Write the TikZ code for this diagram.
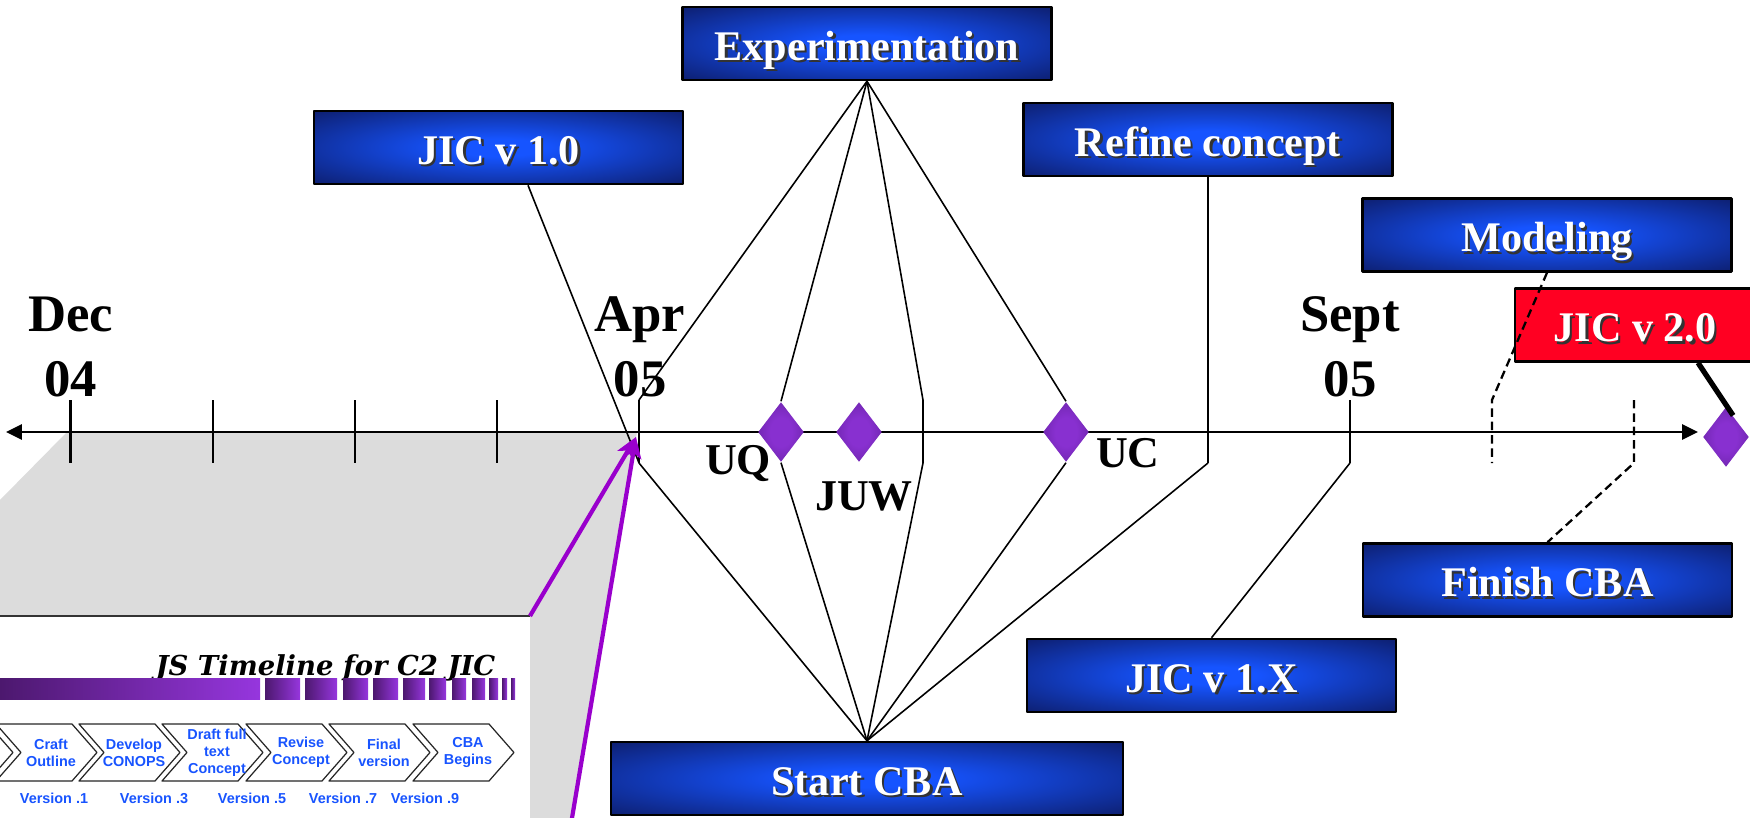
\documentclass[tikz,border=0pt]{standalone}
\usepackage{fontspec}
\setmainfont{Liberation Serif}
\newfontfamily\chevfont{Liberation Sans}
\newfontfamily\titlefont{DejaVu Serif}
\usetikzlibrary{positioning,calc,arrows.meta,shapes.geometric}

\definecolor{boxedge}{RGB}{13,30,110}
\definecolor{boxmid}{RGB}{22,84,255}
\definecolor{jicred}{RGB}{255,0,34}
\definecolor{gemdark}{RGB}{78,24,128}
\definecolor{gemlight}{RGB}{136,48,208}
\definecolor{zoompurple}{RGB}{153,0,204}
\definecolor{zoomgrey}{RGB}{220,220,220}
\definecolor{chevblue}{RGB}{24,84,255}
\definecolor{bardark}{RGB}{76,24,110}
\definecolor{barlight}{RGB}{150,54,222}

\pgfdeclareradialshading{boxglow}{\pgfpoint{0bp}{0bp}}{color(0bp)=(boxmid); color(6bp)=(boxmid); color(36bp)=(boxedge); color(50bp)=(boxedge)}
\pgfdeclareradialshading{gemglow}{\pgfpoint{0bp}{0bp}}{color(0bp)=(gemlight); color(12bp)=(gemlight); color(50bp)=(gemdark)}

\newcommand{\shadowed}[1]{\makebox[0pt][l]{\hspace{0.7pt}\raisebox{-0.7pt}{\color{black!80}#1}}\textcolor{white}{#1}}

\begin{document}
\begin{tikzpicture}[x=0.01cm,y=-0.01cm,line join=round]
  % 1 unit = 1px of the 1750x818 slide, y grows downwards
  \clip (0,0) rectangle (1750,818);
  \tikzset{
    tlbox/.style={draw=black,line width=0.7pt,minimum width=3.69cm,minimum height=0.73cm,
                  inner sep=0pt,text height=9.5pt,text depth=0pt,
                  font=\fontsize{12}{14}\selectfont\bfseries},
    bluebox/.style={tlbox,shading=boxglow},
    redbox/.style={tlbox,fill=jicred},
    gem/.style={diamond,shading=gemglow,minimum width=0.46cm,minimum height=0.6cm,inner sep=0pt},
    monthlbl/.style={align=center,inner sep=0pt,font=\fontsize{15}{18.5}\selectfont\bfseries},
    gemlbl/.style={inner sep=0pt,font=\fontsize{12.5}{14}\selectfont\bfseries},
    tick/.style={line width=0.6pt},
    link/.style={line width=0.45pt},
    dlink/.style={line width=0.65pt,dash pattern=on 2.4pt off 1.4pt},
    chev/.style={draw=black!85,line width=0.35pt,fill=white},
    chevtext/.style={align=center,inner sep=0pt,text=chevblue,
                     font=\chevfont\fontsize{4.1}{4.8}\selectfont\bfseries},
    zoomarrow/.style={draw=zoompurple,line width=1.2pt,-{Stealth[length=6pt,width=5pt,inset=1.5pt]}}
  }

  % zoom wedge behind the axis
  \fill[zoomgrey] (67,432) -- (637,432) -- (572,818) -- (530,818) -- (530,616)
                  -- (0,616) -- (0,500) -- cycle;
  \draw[line width=0.8pt,black!80] (0,616) -- (530,616);

  % inset: JS timeline
  \node[anchor=base east,inner sep=0pt,font=\titlefont\fontsize{7.8}{8}\selectfont\bfseries\itshape]
    (jstitle) at (496,675) {JS Timeline for C2 JIC};
  \shade[left color=bardark,right color=barlight] (0,678) rectangle (260,699);
  \foreach \a/\b in {265/300,305/337,343/368,373/398,403/425,429/446,452/466,472/485,489/498,502/507,511/515}
    \shade[left color=bardark,right color=barlight] (\a,678) rectangle (\b,699);
  \foreach \lx/\txt [count=\k] in {-88/{},-4/{Craft\\Outline},79/{Develop\\CONOPS},
      162/{Draft full\\text\\Concept},246/{Revise\\Concept},329/{Final\\version},413/{CBA\\Begins}} {
    \draw[chev] (\lx,724) -- ++(76,0) -- ++(25,28.5) -- ++(-25,28.5) -- ++(-76,0) -- ++(25,-28.5) -- cycle;
    \node[chevtext] (chev\k) at (\lx+55,752.5) {\txt};
  }
  \foreach \vx/\vt [count=\k] in {54/.1,154/.3,252/.5,343/.7,425/.9}
    \node[chevtext] (ver\k) at (\vx,798) {Version \vt};

  % time axis, one tick per month
  \draw[line width=0.8pt,{Triangle[length=4.5pt,width=4.2pt]}-{Triangle[length=4.5pt,width=4.2pt]}]
    (6,432) -- (1698,432);
  \foreach \i in {0,...,3}
    \draw[tick] (70.5+142.2*\i,400) -- ++(0,63);
  \coordinate (aprtop) at (639,400);  \coordinate (aprbot) at (639,463);
  \coordinate (juntop) at (923,400);  \coordinate (junbot) at (923,463);
  \coordinate (augbot) at (1208,463);
  \coordinate (septop) at (1350,400); \coordinate (sepbot) at (1350,463);
  \coordinate (octtop) at (1492,400); \coordinate (octbot) at (1492,463);
  \coordinate (novtop) at (1634,400); \coordinate (novbot) at (1634,463);
  \draw[tick] (aprtop) -- (aprbot);

  \node[monthlbl] (dec) at (70.5,347) {Dec\\04};
  \node[monthlbl] (apr) at (640,347) {Apr\\05};
  \node[monthlbl] (sept) at (1350,347) {Sept\\05};

  % milestones
  \node[gem] (uq) at (781,432) {};
  \node[gem] (juw) at (859,432) {};
  \node[gem] (uc) at (1066,432) {};
  \node[gem] (fin) at (1726,437) {};
  \node[gemlbl] (uqlbl) at (738,464) {UQ};
  \node[gemlbl] (juwlbl) at (864,496) {JUW};
  \node[gemlbl] (uclbl) at (1128,453) {UC};

  % boxes
  \node[bluebox] (exper) at (867,43.5) {\shadowed{Experimentation}};
  \node[bluebox] (jicone) at (498.5,147.5) {\shadowed{JIC v 1.0}};
  \node[bluebox] (refine) at (1208,139.5) {\shadowed{Refine concept}};
  \node[bluebox] (modeling) at (1547,235) {\shadowed{Modeling}};
  \node[redbox,minimum width=2.4cm] (jictwo) at (1635,325) {\shadowed{JIC v 2.0}};
  \node[bluebox] (finish) at (1547.5,580) {\shadowed{Finish CBA}};
  \node[bluebox] (jicx) at (1211.5,675.5) {\shadowed{JIC v 1.X}};
  \node[bluebox,minimum width=5.12cm] (startcba) at (867,778.5) {\shadowed{Start CBA}};

  % connectors
  \foreach \t in {aprtop,uq.north,juntop,uc.north}
    \draw[link] (exper.south) -- (\t);
  \draw[link] (juntop) -- (junbot);
  \foreach \t in {aprbot,uq.south,junbot,uc.south,augbot}
    \draw[link] (\t) -- (startcba.north);
  \draw[link] ($(jicone.south)+(29.5,0)$) -- (aprbot);
  \draw[link] (refine.south) -- (augbot);
  \draw[tick] (septop) -- (sepbot);
  \draw[link] (sepbot) -- (jicx.north);
  \draw[dlink] (modeling.south) -- (octtop) -- (octbot);
  \draw[dlink] (novtop) -- (novbot) -- (finish.north);
  \draw[line width=1.5pt] ($(jictwo.south)+(63,0)$) -- ($(fin.north)!0.3!(fin.east)$);

  % zoom arrows onto April
  \coordinate (aprpt) at (636,437);
  \coordinate (insetcorner) at (530,616);
  \coordinate (insetfoot) at (570,830);
  \draw[zoomarrow] (insetcorner) -- (aprpt);
  \draw[zoomarrow] (insetfoot) -- (aprpt);
\end{tikzpicture}
\end{document}
